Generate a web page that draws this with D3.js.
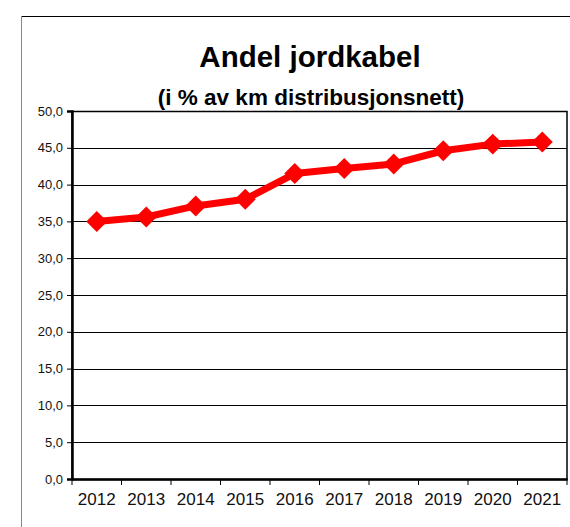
<!DOCTYPE html>
<html>
<head>
<meta charset="utf-8">
<script src="https://cdn.jsdelivr.net/npm/d3@7"></script>
<style>
  body { margin: 0; background: #fff; }
  svg text { font-family: "Liberation Sans", Arial, sans-serif; }
</style>
</head>
<body>
<div id="chart"></div>
<script>
var years = ["2012", "2013", "2014", "2015", "2016", "2017", "2018", "2019", "2020", "2021"];
var andel = [35.0, 35.6, 37.1, 38.0, 41.5, 42.2, 42.8, 44.6, 45.5, 45.8];
var yTicks = [0, 5, 10, 15, 20, 25, 30, 35, 40, 45, 50];

var width = 570, height = 527;
var plotLeft = 72, plotRight = 567, plotTop = 111, plotBottom = 479;

var svg = d3.select("#chart")
    .append("svg")
    .attr("width", width)
    .attr("height", height);

// outer frame
svg.append("line")
    .attr("x1", 21).attr("x2", 570).attr("y1", 16.5).attr("y2", 16.5)
    .attr("stroke", "#000").attr("stroke-width", 1);
svg.append("line")
    .attr("x1", 21.5).attr("x2", 21.5).attr("y1", 16).attr("y2", 527)
    .attr("stroke", "#888").attr("stroke-width", 1);

// titles
svg.append("text")
    .attr("x", 310).attr("y", 67)
    .attr("text-anchor", "middle")
    .attr("font-size", 29.5).attr("font-weight", "bold")
    .text("Andel jordkabel");
svg.append("text")
    .attr("x", 311).attr("y", 105)
    .attr("text-anchor", "middle")
    .attr("font-size", 22.5).attr("font-weight", "bold")
    .text("(i % av km distribusjonsnett)");

var x = d3.scaleBand().domain(years).range([plotLeft, plotRight]);
var y = d3.scaleLinear().domain([0, 50]).range([plotBottom, plotTop]);

// gridlines
svg.append("g")
    .selectAll("line")
    .data(yTicks)
    .enter().append("line")
    .attr("x1", plotLeft).attr("x2", plotRight)
    .attr("y1", function(d) { return Math.round(y(d)) + 0.5; })
    .attr("y2", function(d) { return Math.round(y(d)) + 0.5; })
    .attr("stroke", "#000").attr("stroke-width", 1);

// plot border
svg.append("rect")
    .attr("x", plotLeft).attr("y", plotTop + 0.5)
    .attr("width", plotRight - plotLeft).attr("height", plotBottom - plotTop)
    .attr("fill", "none").attr("stroke", "#000").attr("stroke-width", 1.5);

// y axis
var yAxis = svg.append("g")
    .attr("transform", "translate(" + plotLeft + ",0)")
    .call(d3.axisLeft(y).tickValues(yTicks).tickSize(5).tickPadding(4)
        .tickFormat(function(d) { return d3.format(".1f")(d).replace(".", ","); }));
yAxis.select(".domain").attr("stroke-width", 2.5);
yAxis.selectAll("text").attr("font-size", 13).attr("fill", "#111");

// x axis
var xAxis = svg.append("g")
    .attr("transform", "translate(0," + plotBottom + ")")
    .call(d3.axisBottom(x).tickSize(0).tickPadding(14));
xAxis.select(".domain").attr("stroke-width", 2.5);
xAxis.selectAll("text").attr("font-size", 17).attr("fill", "#111");
xAxis.selectAll(".sep")
    .data(years.concat(["end"]))
    .enter().append("line")
    .attr("x1", function(d, i) { return plotLeft + i * x.bandwidth(); })
    .attr("x2", function(d, i) { return plotLeft + i * x.bandwidth(); })
    .attr("y1", 0).attr("y2", 6)
    .attr("stroke", "#000").attr("stroke-width", 1);

// line
var line = d3.line()
    .x(function(d, i) { return x(years[i]) + x.bandwidth() / 2; })
    .y(function(d) { return y(d); });

svg.append("path")
    .datum(andel)
    .attr("d", line)
    .attr("fill", "none")
    .attr("stroke", "#ff0000")
    .attr("stroke-width", 7)
    .attr("stroke-linejoin", "round");

svg.append("g")
    .selectAll("path")
    .data(andel)
    .enter().append("path")
    .attr("d", d3.symbol().type(d3.symbolSquare).size(220))
    .attr("transform", function(d, i) {
        return "translate(" + (x(years[i]) + x.bandwidth() / 2) + "," + y(d) + ") rotate(45)";
    })
    .attr("fill", "#ff0000");
</script>
</body>
</html>
